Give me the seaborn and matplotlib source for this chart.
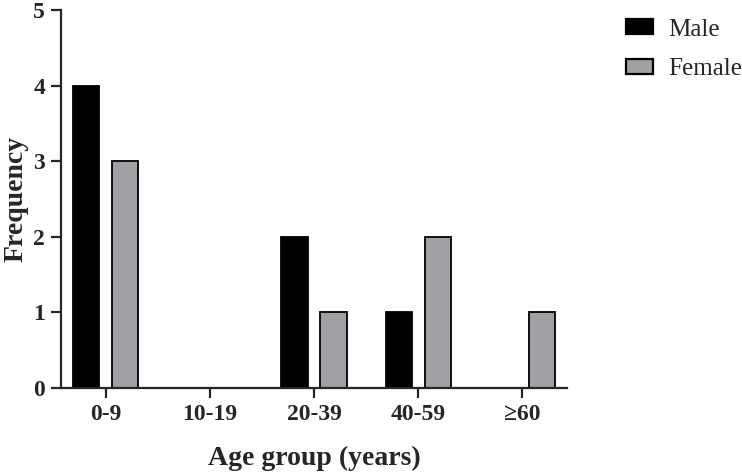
import matplotlib
matplotlib.use("Agg")
import matplotlib.pyplot as plt
from matplotlib.patches import Patch
import pandas as pd
import seaborn as sns

age_groups = ["0-9", "10-19", "20-39", "40-59", "\u226560"]
male = [4, 0, 2, 1, 0]
female = [3, 0, 1, 2, 1]
sexes = ["Male", "Female"]
colors = {"Male": "#000000", "Female": "#a0a0a4"}

df = pd.DataFrame(
    {
        "age": age_groups * 2,
        "count": male + female,
        "sex": ["Male"] * len(age_groups) + ["Female"] * len(age_groups),
    }
)

sns.set_theme(style="ticks")
plt.rcParams["font.family"] = ["Liberation Serif", "DejaVu Serif"]

fig = plt.figure(figsize=(7.42, 4.72), dpi=100)
ax = fig.add_axes([0.0822, 0.178, 0.682, 0.801])

sns.barplot(
    data=df, x="age", y="count", hue="sex", hue_order=sexes, order=age_groups,
    palette=colors, width=0.75, gap=0.33, edgecolor="black", linewidth=1.3,
    saturation=1, legend=False, ax=ax,
)
# empty categories: no flat bar outline on the axis
for p in ax.patches:
    if p.get_height() == 0:
        p.set_linewidth(0)

ax.set_xlim(-0.43, 4.43)
ax.set_ylim(0, 5)
ax.set_yticks(range(0, 6))
sns.despine(ax=ax)
for side in ["left", "bottom"]:
    ax.spines[side].set_linewidth(1.6)
ax.tick_params(axis="both", width=1.6, length=7.5, direction="out", labelsize=17, pad=4)
for lab in ax.get_xticklabels() + ax.get_yticklabels():
    lab.set_fontweight("bold")
ax.set_xlabel("Age group (years)", fontsize=20, fontweight="bold", labelpad=15)
ax.set_ylabel("Frequency", fontsize=20, fontweight="bold", labelpad=3)

handles = [Patch(facecolor=colors[s], edgecolor="black", linewidth=1.6, label=s) for s in sexes]
ax.legend(
    handles=handles, loc="upper left", bbox_to_anchor=(1.097, 1.003), frameon=False,
    fontsize=18, handlelength=1.08, handleheight=0.55, labelspacing=0.7, handletextpad=0.6,
    borderaxespad=0,
)

fig.savefig("out.png", dpi=100)
